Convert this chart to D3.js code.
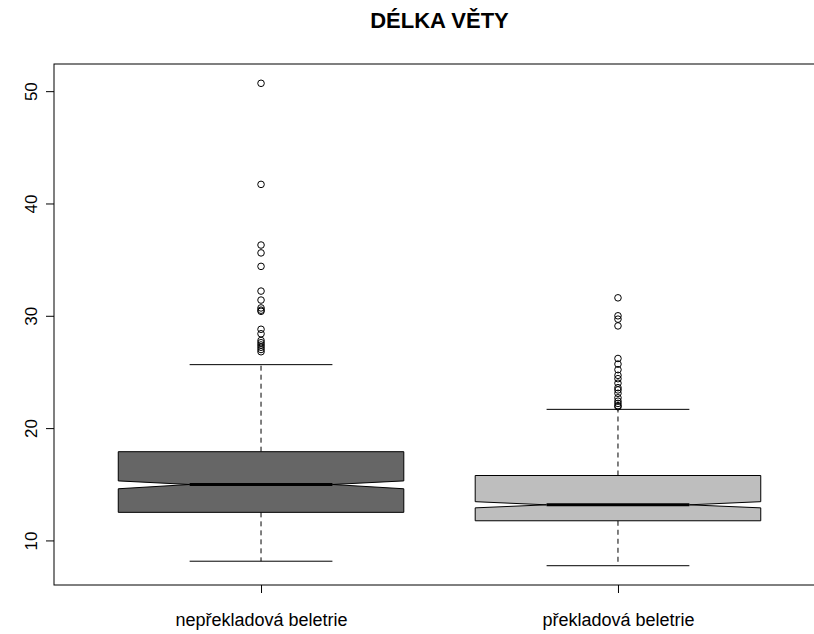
<!DOCTYPE html>
<html>
<head>
<meta charset="utf-8">
<script src="https://cdn.jsdelivr.net/npm/d3@7"></script>
<style>
  body { margin: 0; background: #fff; }
  svg { display: block; font-family: "Liberation Sans", Arial, sans-serif; }
</style>
</head>
<body>
<svg id="chart" width="814" height="634"></svg>
<script>
// box statistics
const categories = ["nepřekladová beletrie", "překladová beletrie"]
const whiskerLow  = [8.15, 7.75]
const q1          = [12.5, 11.75]
const median      = [14.98, 13.17]
const q3          = [17.9, 15.78]
const whiskerHigh = [25.65, 21.67]
const notchLow    = [14.6, 12.9]
const notchHigh   = [15.3, 13.45]
const outliers1 = [50.7, 41.7, 36.3, 35.6, 34.4, 32.2, 31.4, 30.7, 30.5, 30.4, 28.8, 28.4, 27.8, 27.6, 27.4, 27.2, 27.0, 26.8]
const outliers2 = [31.6, 30.0, 29.7, 29.1, 26.2, 25.7, 25.2, 24.7, 24.4, 24.0, 23.6, 23.4, 23.1, 22.7, 22.4, 22.2, 22.0, 21.9]
const yTicks = [10, 20, 30, 40, 50]
const fills = ["#666666", "#bebebe"]
const title = "DÉLKA VĚTY"

const boxes = categories.map((c, i) => ({
  pos: i + 1, name: c, lo: whiskerLow[i], q1: q1[i], med: median[i], q3: q3[i], hi: whiskerHigh[i],
  nlo: notchLow[i], nhi: notchHigh[i], out: [outliers1, outliers2][i], fill: fills[i]
}))

const svg = d3.select('#chart')
const mLeft = 54, mRight = 825, mTop = 64, mBottom = 585

const x = d3.scaleLinear().domain([0.42, 2.58]).range([mLeft, mRight])
const allVals = boxes.flatMap(b => [b.lo, b.hi, ...b.out])
const [ymin, ymax] = d3.extent(allVals)
const pad = (ymax - ymin) * 0.04
const y = d3.scaleLinear().domain([ymin - pad, ymax + pad]).range([mBottom, mTop])

const boxW = 0.8

// title
svg.append('text')
  .attr('x', (mLeft + mRight) / 2)
  .attr('y', 28)
  .attr('text-anchor', 'middle')
  .style('font-weight', 'bold')
  .style('font-size', '22px')
  .text(title)

const g = svg.append('g')

boxes.forEach(b => {
  const cx = x(b.pos)
  const hw = (x(b.pos + boxW / 2) - cx)
  const qw = hw / 2

  // dashed whiskers
  g.append('line')
    .attr('x1', cx).attr('x2', cx).attr('y1', y(b.q3)).attr('y2', y(b.hi))
    .attr('stroke', '#000').attr('stroke-dasharray', '5,4')
  g.append('line')
    .attr('x1', cx).attr('x2', cx).attr('y1', y(b.q1)).attr('y2', y(b.lo))
    .attr('stroke', '#000').attr('stroke-dasharray', '5,4')
  // staples
  ;[b.lo, b.hi].forEach(v => {
    g.append('line')
      .attr('x1', cx - qw).attr('x2', cx + qw).attr('y1', y(v)).attr('y2', y(v))
      .attr('stroke', '#000')
  })

  // notched box
  const pts = [
    [cx - hw, y(b.q1)], [cx + hw, y(b.q1)], [cx + hw, y(b.nlo)], [cx + qw, y(b.med)],
    [cx + hw, y(b.nhi)], [cx + hw, y(b.q3)], [cx - hw, y(b.q3)], [cx - hw, y(b.nhi)],
    [cx - qw, y(b.med)], [cx - hw, y(b.nlo)]
  ]
  g.append('path')
    .attr('d', d3.line()(pts) + 'Z')
    .attr('fill', b.fill)
    .attr('stroke', '#000')
    .attr('stroke-width', 1)

  // median
  g.append('line')
    .attr('x1', cx - qw).attr('x2', cx + qw).attr('y1', y(b.med)).attr('y2', y(b.med))
    .attr('stroke', '#000').attr('stroke-width', 3)

  // outliers
  g.selectAll(null)
    .data(b.out)
    .enter().append('circle')
    .attr('cx', cx)
    .attr('cy', d => y(d))
    .attr('r', 3.3)
    .attr('fill', 'none')
    .attr('stroke', '#000')
})

// frame
svg.append('rect')
  .attr('x', mLeft).attr('y', mTop)
  .attr('width', mRight - mLeft).attr('height', mBottom - mTop)
  .attr('fill', 'none').attr('stroke', '#000')

// y axis
const yAxis = svg.append('g')
  .attr('transform', `translate(${mLeft},0)`)
  .call(d3.axisLeft(y).tickValues(yTicks).tickSize(8).tickSizeOuter(0))
yAxis.select('.domain').remove()
yAxis.selectAll('.tick line').attr('stroke', '#000')
yAxis.selectAll('.tick text')
  .attr('x', null).attr('dy', null)
  .attr('text-anchor', 'middle')
  .attr('transform', 'translate(-17,0) rotate(-90)')
  .style('font-size', '17px')
  .attr('fill', '#000')

// x axis
const xAxis = svg.append('g')
  .attr('transform', `translate(0,${mBottom})`)
  .call(d3.axisBottom(x).tickValues(boxes.map(b => b.pos)).tickFormat((d, i) => categories[i]).tickSize(8).tickSizeOuter(0))
xAxis.select('.domain').remove()
xAxis.selectAll('.tick line').attr('stroke', '#000')
xAxis.selectAll('.tick text')
  .attr('y', 41).attr('dy', null)
  .style('font-size', '18px')
  .attr('fill', '#000')
</script>
</body>
</html>
